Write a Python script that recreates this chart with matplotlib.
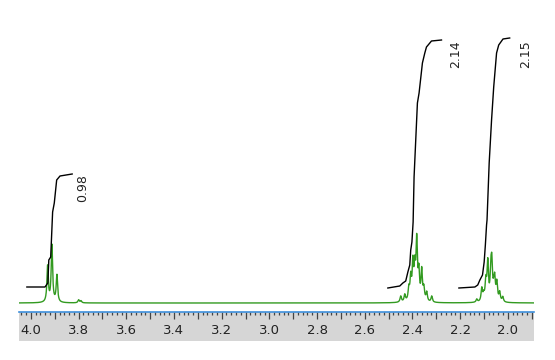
import numpy as np
import matplotlib
matplotlib.use('Agg')
import matplotlib.pyplot as plt
from matplotlib.ticker import MultipleLocator, FuncFormatter

# peak list: shift (ppm), height (px above baseline)
peak_ppm_1 = [3.930, 3.912, 3.891, 3.800, 3.790]
peak_h_1 = [36, 57, 27, 3, 2]

peak_ppm_2 = [2.449, 2.432, 2.415, 2.407, 2.398, 2.390, 2.382, 2.373, 2.361, 2.352, 2.340, 2.319]
peak_h_2 = [6, 7, 12, 22, 36, 30, 58, 27, 30, 12, 9, 6]

peak_ppm_3 = [2.130, 2.109, 2.101, 2.092, 2.084, 2.071, 2.067, 2.059, 2.055, 2.046, 2.034, 2.021]
peak_h_3 = [3, 13, 6, 19, 38, 26, 33, 8, 20, 18, 9, 5]

# integral traces
int1_ppm = [4.017, 3.941, 3.929, 3.925, 3.917, 3.909, 3.902, 3.892, 3.878, 3.827]
int1_h = [16, 16, 20, 43, 46, 91, 100, 123, 127, 129]
int2_ppm = [2.503, 2.453, 2.440, 2.428, 2.419, 2.411, 2.407, 2.402, 2.397, 2.393,
            2.379, 2.372, 2.358, 2.348, 2.341, 2.320, 2.278]
int2_h = [15, 17, 20, 22, 31, 38, 53, 61, 81, 126, 200, 210, 240, 250, 256, 262, 263]
int3_ppm = [2.205, 2.138, 2.126, 2.117, 2.106, 2.099, 2.094, 2.089, 2.087, 2.078,
            2.068, 2.059, 2.047, 2.038, 2.020, 1.992]
int3_h = [15, 16, 18, 23, 28, 41, 58, 78, 83, 140, 183, 216, 250, 258, 264, 265]

int_labels = ['0.98', '2.14', '2.15']
label_ppm = [3.782, 2.218, 1.925]
label_h = [115, 249, 249]

# 合成谱线 (Lorentzian)
x = np.linspace(4.05, 1.89, 6000)
y = np.zeros_like(x)
hw = 0.0035
for pp, hh in zip(peak_ppm_1 + peak_ppm_2 + peak_ppm_3, peak_h_1 + peak_h_2 + peak_h_3):
    y += hh * hw**2 / ((x - pp)**2 + hw**2)

fig = plt.figure(figsize=(5.55, 3.6), dpi=100)
ax = fig.add_axes([19/555, 49/360, 515/555, 311/360])
ax.plot(x, y, color='#329a20', lw=1.0)
for xp, yh in [(int1_ppm, int1_h), (int2_ppm, int2_h), (int3_ppm, int3_h)]:
    ax.plot(xp, yh, color='black', lw=1.0)
for t, xp, yh in zip(int_labels, label_ppm, label_h):
    ax.text(xp, yh, t, rotation=90, ha='center', va='center', fontsize=9, color='#222222')
ax.set_xlim(4.05, 1.89)
ax.set_ylim(-8, 303)
ax.axis('off')

# 刻度条
ax2 = fig.add_axes([19/555, 19/360, 515/555, 29/360], facecolor='#d6d6d6')
ax2.set_xlim(4.05, 1.89)
ax2.set_yticks([])
for s in ['left', 'right', 'bottom']:
    ax2.spines[s].set_visible(False)
ax2.spines['top'].set_color('#3d8fdc')
ax2.spines['top'].set_linewidth(1.2)
ax2.xaxis.set_major_locator(MultipleLocator(0.1))
ax2.xaxis.set_minor_locator(MultipleLocator(0.02))
ax2.xaxis.set_major_formatter(FuncFormatter(
    lambda v, p: '%.1f' % v if int(round(v * 10)) % 2 == 0 else ''))
ax2.tick_params(axis='x', which='both', direction='in', top=True, bottom=False,
                labelbottom=True, labeltop=False, color='#444444', width=0.9,
                labelsize=9.5, labelcolor='#222222')
ax2.tick_params(axis='x', which='major', length=5, pad=-12)
ax2.tick_params(axis='x', which='minor', length=2.5)

fig.savefig('out.png', dpi=100)
